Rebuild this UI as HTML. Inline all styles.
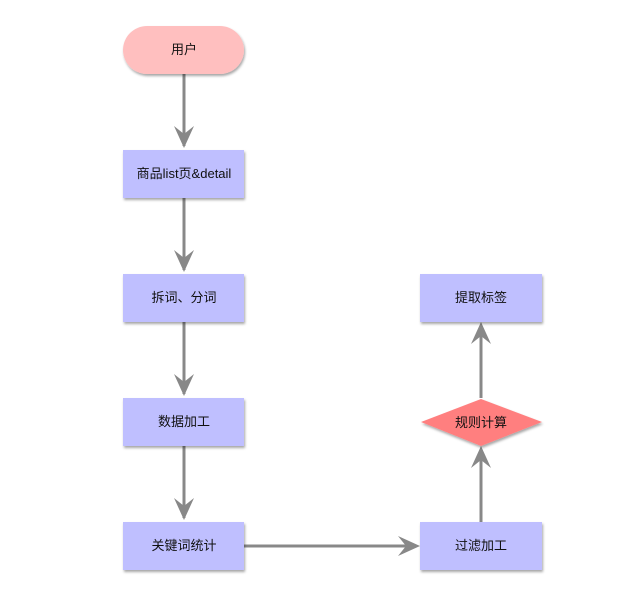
<!DOCTYPE html>
<html><head><meta charset="utf-8"><style>
body{margin:0;background:#fff;width:640px;height:599px;overflow:hidden}
</style></head><body>
<svg width="640" height="599" xmlns="http://www.w3.org/2000/svg" font-family="Liberation Sans, Noto Sans CJK SC, sans-serif" font-size="13">
<defs>
<filter id="s" x="-10%" y="-10%" width="130%" height="140%"><feDropShadow dx="1" dy="2" stdDeviation="1.2" flood-color="#000" flood-opacity="0.35"/></filter>
</defs>
<g stroke="#888" stroke-width="3" fill="none">
<line x1="184" y1="74" x2="184" y2="146"/>
<line x1="184" y1="198" x2="184" y2="270"/>
<line x1="184" y1="322" x2="184" y2="394"/>
<line x1="184" y1="446" x2="184" y2="518"/>
<line x1="244" y1="546" x2="416" y2="546"/>
<line x1="481" y1="522" x2="481" y2="450"/>
<line x1="481" y1="398" x2="481" y2="326"/>
</g>
<g fill="#888">
<path d="M184 148 L174 126 L184 134 L194 126 Z"/>
<path d="M184 272 L174 250 L184 258 L194 250 Z"/>
<path d="M184 396 L174 374 L184 382 L194 374 Z"/>
<path d="M184 520 L174 498 L184 506 L194 498 Z"/>
<path d="M420 546 L398 536 L406 546 L398 556 Z"/>
<path d="M481 446 L471 468 L481 460 L491 468 Z"/>
<path d="M481 322 L471 344 L481 336 L491 344 Z"/>
</g>
<g filter="url(#s)">
<rect x="123" y="26" width="121" height="48" rx="24" fill="#ffbfbf"/>
<rect x="123" y="150" width="121" height="48" fill="#bfbfff"/>
<rect x="123" y="274" width="121" height="48" fill="#bfbfff"/>
<rect x="123" y="398" width="121" height="48" fill="#bfbfff"/>
<rect x="123" y="522" width="121" height="48" fill="#bfbfff"/>
<rect x="420" y="522" width="122" height="48" fill="#bfbfff"/>
<rect x="420" y="274" width="122" height="48" fill="#bfbfff"/>
<path d="M421 422 L481 399 L542 422 L481 446 Z" fill="#ff7f7f"/>
</g>
<g text-anchor="middle" fill="#111">
<text x="184" y="54">用户</text>
<text x="184" y="178">商品list页&amp;detail</text>
<text x="184" y="302">拆词、分词</text>
<text x="184" y="426">数据加工</text>
<text x="184" y="550">关键词统计</text>
<text x="481" y="550">过滤加工</text>
<text x="481" y="427">规则计算</text>
<text x="481" y="302">提取标签</text>
</g>
</svg>
</body></html>
